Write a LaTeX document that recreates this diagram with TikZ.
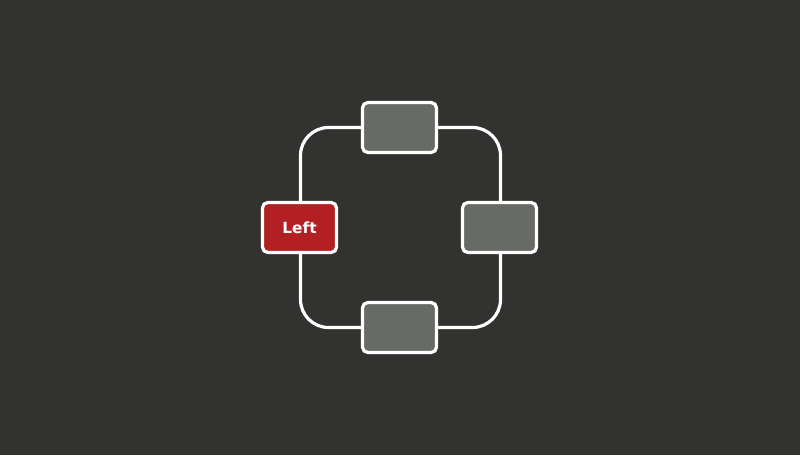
\documentclass[tikz,border=0pt]{standalone}
\usepackage{fontspec}
\setmainfont{DejaVu Sans}
\definecolor{bgc}{HTML}{323331}
\definecolor{boxgray}{HTML}{686A66}
\definecolor{boxred}{HTML}{B32024}
\tikzset{
  loopline/.style={draw=white, line width=2.4pt},
  gbox/.style={draw=white, line width=2.4pt, fill=boxgray, rounded corners=4pt,
    minimum width=55.5pt, minimum height=37.5pt, inner sep=0pt},
  rbox/.style={gbox, fill=boxred, text=white, font=\bfseries\fontsize{11.5}{13}\selectfont}
}
\begin{document}
\begin{tikzpicture}[x=0.75pt,y=-0.75pt]
\fill[bgc] (0,0) rectangle (800,455);
\useasboundingbox (0,0) rectangle (800,455);
\coordinate (tl) at (300.5,127.5);
\coordinate (br) at (500.5,327.5);
\draw[loopline, rounded corners=21pt] (tl) rectangle (br);
\node[gbox] (top) at (399.5,127.5) {};
\node[gbox] (right) at (499.5,227.5) {};
\node[gbox] (bottom) at (399.5,327.5) {};
\node[rbox] (left) at (299.5,227.5) {Left};
\end{tikzpicture}
\end{document}
